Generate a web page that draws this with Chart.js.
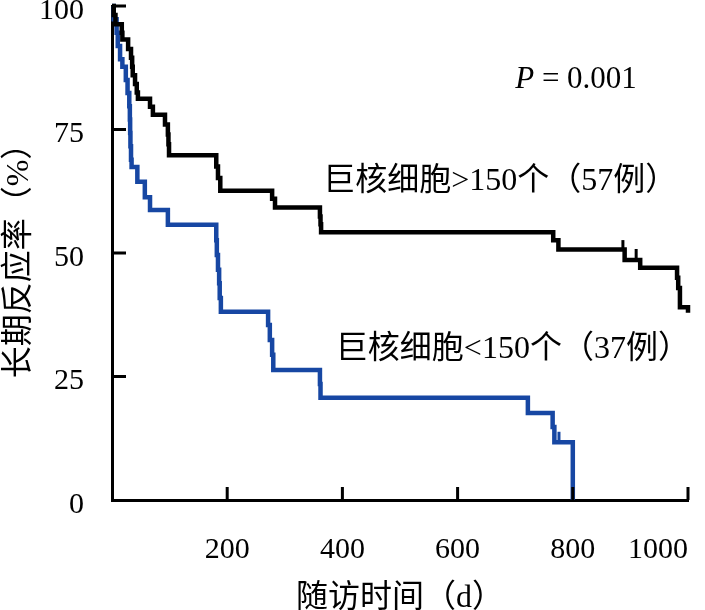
<!DOCTYPE html>
<html>
<head>
<meta charset="utf-8">
<script src="https://cdn.jsdelivr.net/npm/chart.js@4"></script>
<style>
  html, body { margin: 0; padding: 0; background: #fff; }
  #wrap { width: 705px; height: 610px; }
</style>
</head>
<body>
<div id="wrap"><canvas id="myChart" width="705" height="610"></canvas></div>
<script>
// megakaryocytes > 150 (57 cases)
const highTime = [0, 3, 6, 17, 18, 28, 33, 35, 36, 40, 43, 45, 66, 71, 92, 97, 98, 99, 181, 184, 188, 278, 283, 361, 362, 363, 766, 775, 890, 917, 981, 983, 986, 1000];
const highRate = [100, 98.2, 96.3, 94.6, 93.2, 91.3, 89.5, 87.7, 86.0, 84.2, 82.5, 81.2, 79.6, 78.0, 76.0, 74.0, 72.0, 69.8, 67.5, 65.2, 62.6, 61.0, 59.2, 57.4, 55.8, 54.2, 52.6, 50.7, 48.6, 47.0, 45.0, 42.9, 39.0, 37.9];
const highCensorTime = [887, 910];
const highCensorRate = [51.6, 49.8];

// megakaryocytes < 150 (37 cases)
const lowTime = [0, 3, 8, 10, 14, 18, 24, 27, 30, 31, 31.5, 32, 33, 34, 44, 57, 66, 97, 181, 182, 184, 186, 187, 189, 271, 274, 278, 280, 361, 362, 722, 765, 768, 800];
const lowRate = [100, 97.3, 94.6, 91.9, 89.2, 87.7, 85.0, 82.4, 79.7, 77.0, 74.3, 71.6, 68.9, 67.4, 64.4, 61.3, 58.7, 55.7, 52.6, 49.6, 46.6, 43.9, 40.9, 38.1, 35.4, 32.4, 29.4, 26.3, 23.5, 20.7, 17.6, 14.8, 11.7, 0];
const lowCensorTime = [776];
const lowCensorRate = [12.8];

const xTicks = [200, 400, 600, 800, 1000];
const yTicks = [0, 25, 50, 75, 100];

const xTitle = "随访时间（d）";
const yTitle = "长期反应率（%）";
const labelHigh = "巨核细胞>150个（57例）";
const labelLow = "巨核细胞<150个（37例）";
const pValue = "= 0.001";

const fontFamily = "'Liberation Serif', 'Noto Sans CJK SC', serif";
const blue = "#1747a3";

const toPoints = (xs, ys) => xs.map((t, i) => ({ x: t, y: ys[i] }));

// no overhang padding from the scales, the layout padding decides the plot box
const noScalePadding = (scale) => {
  scale.paddingLeft = 0;
  scale.paddingRight = 0;
  scale.paddingTop = 0;
  scale.paddingBottom = 0;
};

const innerTicks = {
  id: "innerTicks",
  afterDraw(chart) {
    const { ctx, chartArea } = chart;
    const x = chart.scales.x;
    const y = chart.scales.y;
    ctx.save();
    ctx.strokeStyle = "#000";
    ctx.lineWidth = 3;
    ctx.beginPath();
    yTicks.forEach((v) => {
      if (v === 0) return;
      const py = y.getPixelForValue(v);
      ctx.moveTo(chartArea.left, py);
      ctx.lineTo(chartArea.left + 14, py);
    });
    xTicks.forEach((v) => {
      const px = x.getPixelForValue(v);
      ctx.moveTo(px, chartArea.bottom);
      ctx.lineTo(px, chartArea.bottom - 13);
    });
    ctx.stroke();

    // text labels
    ctx.fillStyle = "#000";
    ctx.textBaseline = "middle";
    ctx.font = "32px " + fontFamily;
    ctx.textAlign = "center";
    ctx.fillText(labelHigh, x.getPixelForValue(674), y.getPixelForValue(64.4));
    ctx.fillText(labelLow, x.getPixelForValue(696), y.getPixelForValue(30.4));

    ctx.textAlign = "left";
    let px = x.getPixelForValue(700);
    const py = y.getPixelForValue(85);
    ctx.font = "italic 31px " + fontFamily;
    ctx.fillText("P", px, py);
    px += ctx.measureText("P ").width;
    ctx.font = "31px " + fontFamily;
    ctx.fillText(pValue, px, py);
    ctx.restore();
  },
};

const ctx = document.getElementById("myChart");

new Chart(ctx, {
  type: "line",
  data: {
    datasets: [
      {
        data: toPoints(highTime, highRate),
        borderColor: "#000",
        borderWidth: 4.5,
        stepped: true,
        pointRadius: 0,
        fill: false,
        clip: false,
      },
      {
        data: toPoints(lowTime, lowRate),
        borderColor: blue,
        borderWidth: 4.5,
        stepped: true,
        pointRadius: 0,
        fill: false,
        clip: false,
      },
      {
        data: toPoints(highCensorTime, highCensorRate),
        showLine: false,
        pointStyle: "line",
        rotation: 90,
        pointRadius: 5,
        borderColor: "#000",
        pointBorderWidth: 3,
        clip: false,
      },
      {
        data: toPoints(lowCensorTime, lowCensorRate),
        showLine: false,
        pointStyle: "line",
        rotation: 90,
        pointRadius: 5,
        borderColor: blue,
        pointBorderWidth: 3,
        clip: false,
      },
    ],
  },
  options: {
    responsive: false,
    animation: false,
    events: [],
    layout: { autoPadding: false, padding: { top: 6, right: 17, left: 0, bottom: 0 } },
    plugins: {
      legend: { display: false },
      tooltip: { enabled: false },
    },
    scales: {
      x: {
        type: "linear",
        min: 0,
        max: 1000,
        afterFit: (scale) => {
          scale.height = 110;
          noScalePadding(scale);
        },
        grid: { display: false, drawTicks: false },
        border: { display: true, color: "#000", width: 3 },
        ticks: {
          stepSize: 200,
          padding: 32,
          align: "inner",
          color: "#000",
          font: { family: fontFamily, size: 30 },
          maxRotation: 0,
          callback: (v) => (v === 0 ? "" : v),
        },
        title: {
          display: true,
          text: xTitle,
          color: "#000",
          padding: { top: 0, bottom: -8 },
          font: { family: fontFamily, size: 32 },
        },
      },
      y: {
        min: 0,
        max: 100,
        afterFit: (scale) => {
          scale.width = 112;
          noScalePadding(scale);
        },
        grid: { display: false, drawTicks: false },
        border: { display: true, color: "#000", width: 3 },
        ticks: {
          stepSize: 25,
          padding: 28,
          labelOffset: 5,
          color: "#000",
          font: { family: fontFamily, size: 30 },
        },
        title: {
          display: true,
          text: yTitle,
          color: "#000",
          padding: 0,
          font: { family: fontFamily, size: 32 },
        },
      },
    },
  },
  plugins: [innerTicks],
});
</script>
</body>
</html>
